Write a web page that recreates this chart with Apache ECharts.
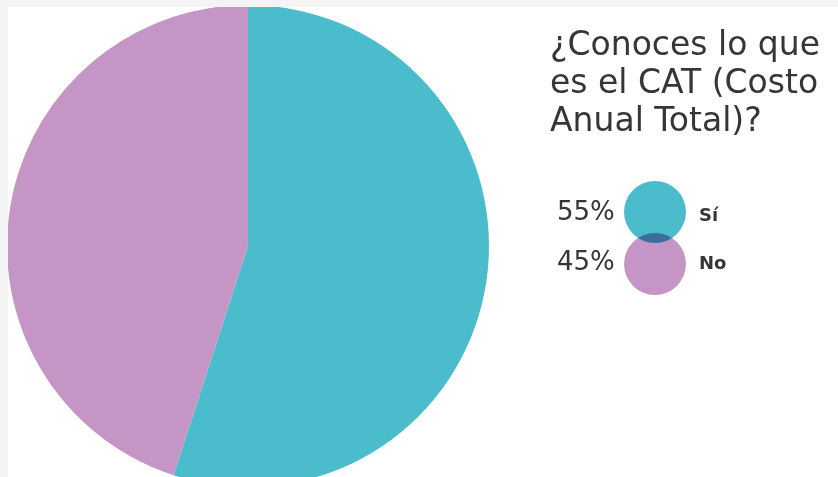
<!DOCTYPE html>
<html>
<head>
<meta charset="utf-8">
<script src="https://cdn.jsdelivr.net/npm/echarts@6/dist/echarts.min.js"></script>
<style>
  html, body { margin: 0; padding: 0; background: #f4f4f4; }
  #chart { position: absolute; left: 8px; top: 7px; width: 830px; height: 470px; background: #ffffff; }
</style>
</head>
<body>
<div id="chart"></div>
<script>
// Survey answers: share of respondents who know what the CAT is
const categories = ['Sí', 'No'];
const values = [55, 45];
const colors = ['#4bbccb', '#c596c5'];
const titleLines = ['¿Conoces lo que', 'es el CAT (Costo', 'Anual Total)?'];

const FONT = '"DejaVu Sans", sans-serif';
const TEXT = '#363636';

const chart = echarts.init(document.getElementById('chart'));

// Legend: stacked overlapping dots, percentages on the left, answers on the right
const legendItems = [];
categories.forEach((name, i) => {
  const cy = 205 + i * 52;
  legendItems.push({
    type: 'circle',
    shape: { cx: 647, cy: cy, r: 31 },
    style: { fill: colors[i], blend: i > 0 ? 'multiply' : 'source-over' },
    z: 10 + i
  });
  legendItems.push({
    type: 'text',
    style: {
      x: 549, y: 219 + i * 50, text: values[i] + '%',
      font: '26px ' + FONT, fill: TEXT, textVerticalAlign: 'bottom'
    },
    z: 20
  });
  legendItems.push({
    type: 'text',
    style: {
      x: 691, y: 218 + i * 48, text: name,
      font: 'bold 18px ' + FONT, fill: TEXT, textVerticalAlign: 'bottom'
    },
    z: 20
  });
});

const titleItems = titleLines.map((line, i) => ({
  type: 'text',
  style: {
    x: 542, y: 56 + i * 38, text: line,
    font: '33px ' + FONT, fill: TEXT, textVerticalAlign: 'bottom'
  },
  z: 20
}));

chart.setOption({
  animation: false,
  backgroundColor: '#ffffff',
  series: [{
    type: 'pie',
    center: [240, 239],
    radius: 241,
    startAngle: 90,
    clockwise: true,
    label: { show: false },
    labelLine: { show: false },
    emphasis: { disabled: true },
    itemStyle: { borderWidth: 0 },
    data: categories.map((name, i) => ({
      name: name, value: values[i], itemStyle: { color: colors[i] }
    }))
  }],
  graphic: legendItems.concat(titleItems)
});
</script>
</body>
</html>
